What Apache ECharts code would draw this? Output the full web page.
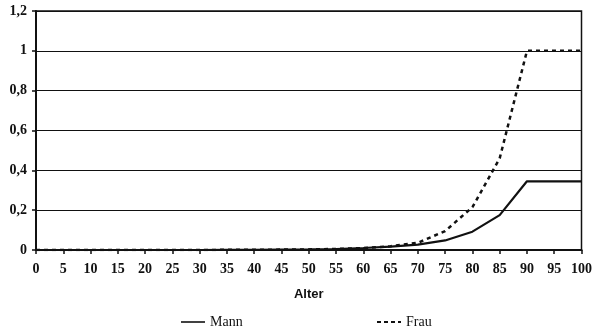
<!DOCTYPE html>
<html><head><meta charset="utf-8">
<script src="https://cdn.jsdelivr.net/npm/echarts@6/dist/echarts.min.js"></script>
<style>html,body{margin:0;padding:0;background:#fff}#c{width:595px;height:329px}</style>
</head><body><div id="c"></div>
<script>
const ages = [0,5,10,15,20,25,30,35,40,45,50,55,60,65,70,75,80,85,90,95,100];
const mann = [0,0,0,0,0,0,0,0.001,0.001,0.002,0.003,0.005,0.01,0.017,0.027,0.048,0.092,0.175,0.345,0.345,0.345];
const frau = [0,0,0,0,0,0,0,0.001,0.001,0.002,0.003,0.005,0.01,0.019,0.036,0.095,0.215,0.46,1.0,1.0,1.0];
const yTicks = [0,0.2,0.4,0.6,0.8,1,1.2];
const names = ['Mann','Frau'];

const chart = echarts.init(document.getElementById('c'));
const font = 'Liberation Serif';
chart.setOption({
  animation:false,
  grid:{left:36,right:11,top:11,bottom:79,show:true,borderColor:'#111',borderWidth:1.5,backgroundColor:'transparent'},
  xAxis:{type:'value',min:0,max:100,interval:5,
    name:'Alter',nameLocation:'middle',nameGap:38,
    nameTextStyle:{fontFamily:'Liberation Sans',fontWeight:'bold',fontSize:13,color:'#111'},
    axisLine:{lineStyle:{color:'#111',width:2}},
    axisTick:{show:true,length:4,lineStyle:{color:'#111',width:1.5}},
    axisLabel:{fontFamily:font,fontWeight:'bold',fontSize:14,color:'#111',margin:12},
    splitLine:{show:false}},
  yAxis:{type:'value',min:0,max:1.2,interval:0.2,
    axisLine:{show:true,lineStyle:{color:'#111',width:2}},
    axisTick:{show:true,length:4,lineStyle:{color:'#111',width:1.5}},
    axisLabel:{fontFamily:font,fontWeight:'bold',fontSize:14,color:'#111',margin:9,
      formatter:v=>{const t=yTicks.find(x=>Math.abs(x-v)<1e-9);return (t===undefined?v:t).toString().replace('.',',');}},
    splitLine:{show:true,lineStyle:{color:'#111',width:1.2}}},
  legend:[
    {data:[{name:names[0]}],left:176,top:310,itemWidth:24,itemHeight:10,itemGap:4,
     textStyle:{fontFamily:font,fontSize:14,color:'#111'},icon:'path://M0,4.2H24V5.8H0Z'},
    {data:[{name:names[1]}],left:372,top:310,itemWidth:24,itemHeight:10,
     textStyle:{fontFamily:font,fontSize:14,color:'#111'},
     icon:'path://M0,4H4V6H0Z M7,4H11V6H7Z M14,4H18V6H14Z M21,4H24V6H21Z'}
  ],
  series:[
    {name:names[0],type:'line',data:ages.map((a,i)=>[a,mann[i]]),showSymbol:false,
     lineStyle:{color:'#111',width:2.2},itemStyle:{color:'#111'}},
    {name:names[1],type:'line',data:ages.map((a,i)=>[a,frau[i]]),showSymbol:false,
     lineStyle:{color:'#111',width:2.5,type:[4,4]},itemStyle:{color:'#111'}}
  ]
});
</script></body></html>
